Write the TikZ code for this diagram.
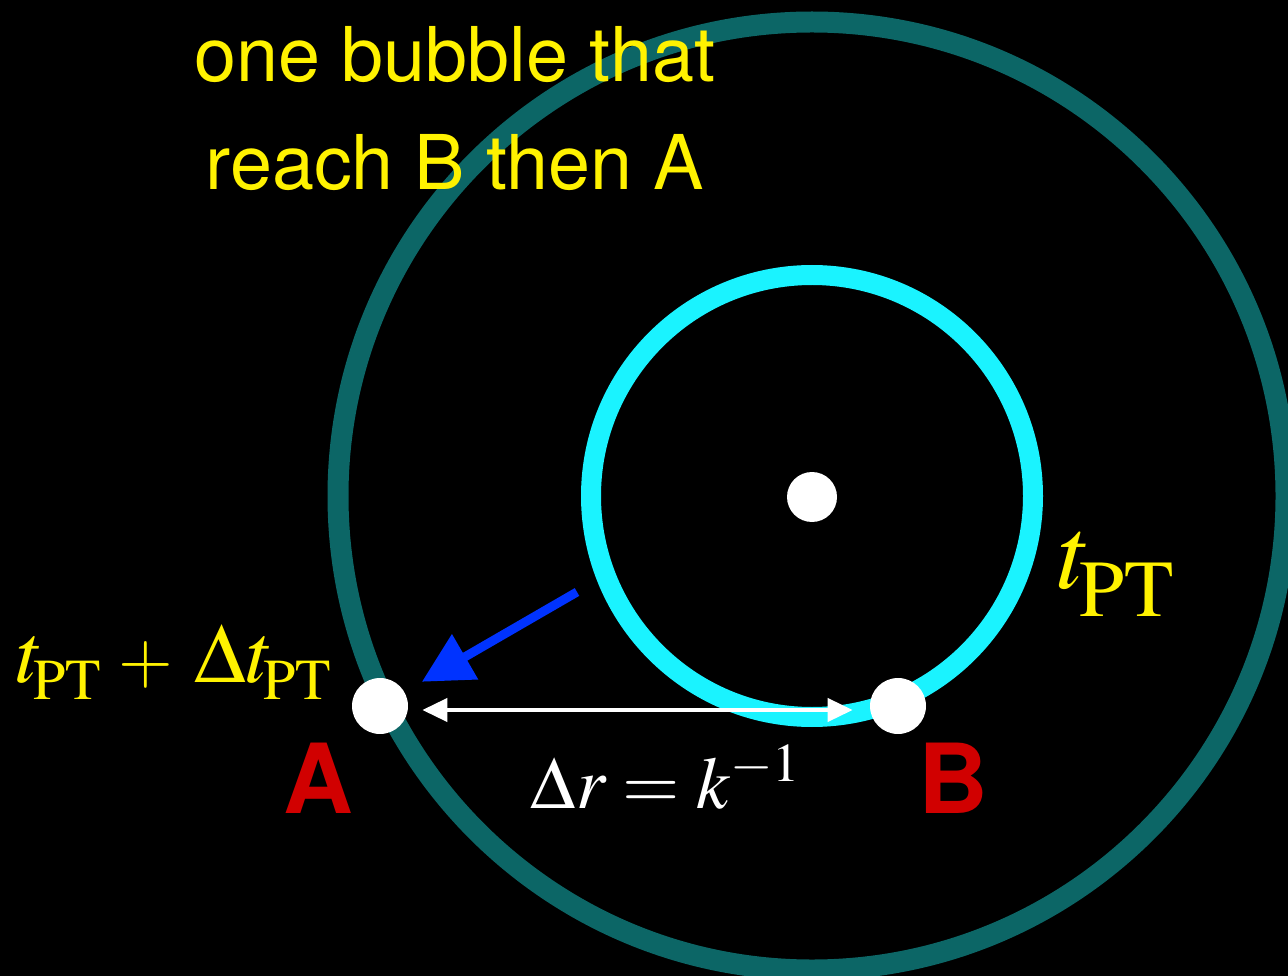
\documentclass[tikz,border=0pt]{standalone}
\usepackage{mathptmx}
\usepackage[no-math]{fontspec}
\setmainfont{TeX Gyre Heros}
\usepackage{tikz}
\usetikzlibrary{positioning,arrows.meta,calc}

\definecolor{bigteal}{HTML}{0C6666}
\definecolor{smallcyan}{HTML}{1AF3FF}
\definecolor{labelyellow}{HTML}{FFF200}
\definecolor{pointred}{HTML}{D10000}
\definecolor{pushblue}{HTML}{0033FF}

% t with a large, low PT index (size, drop)
\newcommand{\tPT}[2]{$t$\kern-0.12em\raisebox{#2}{\fontsize{#1}{#1}\selectfont$\mathrm{PT}$}}

\tikzset{
  dot/.style={circle,fill=white,inner sep=0pt,minimum size=1.12cm},
  ptlabel/.style={text=pointred,inner sep=0pt,font=\fontsize{55}{60}\selectfont\bfseries},
  yellowtext/.style={text=labelyellow,inner sep=0pt},
}

\begin{document}
\begin{tikzpicture}[x=0.02cm,y=-0.02cm]
% black slide, 1288 x 976 px
\fill[black] (0,0) rectangle (1288,976);
\useasboundingbox (0,0) rectangle (1288,976);
\clip (0,0) rectangle (1288,976);
% bubbles around the nucleation point
\draw[bigteal,line width=0.42cm] (812,496) circle[radius=474];
\draw[smallcyan,line width=0.40cm] (812,496) circle[radius=221];
% points
\node[dot,minimum size=1cm] (centre) at (812,497) {};
\node[dot] (ptA) at (380,706) {};
\node[dot] (ptB) at (898,706) {};
\coordinate (blueTail) at (577,592);
% distance between A and B
\draw[white,line width=0.08cm,{Triangle[length=0.5cm,width=0.46cm]}-{Triangle[length=0.5cm,width=0.46cm]},
  shorten <=0.28cm,shorten >=0.34cm] ([yshift=-0.08cm]ptA.east) -- ([yshift=-0.08cm]ptB.west);
% the wall moves on from B to A
\draw[pushblue,line width=0.18cm,-{Triangle[length=1cm,width=1cm]},shorten >=0.4cm] (blueTail) -- (ptA);
% labels
\node[yellowtext,anchor=base,font=\fontsize{43}{52}\selectfont] (line1) at (455,82) {one bubble that};
\node[yellowtext,anchor=base,font=\fontsize{43}{52}\selectfont] (line2) at (455,190) {reach B then A};
\node[yellowtext,anchor=base west,font=\fontsize{59}{64}\selectfont] (tpt) at (1058,588) {\tPT{46}{-0.58cm}};
\node[yellowtext,anchor=base west,font=\fontsize{48}{52}\selectfont] (tptdt) at (16,682)
  {\tPT{33}{-0.36cm}\hspace{0.36cm}{\fontsize{40}{40}\selectfont$+$}\hspace{0.42cm}$\Delta$\tPT{33}{-0.36cm}};
\node[ptlabel,anchor=base] (labA) at (318,813) {A};
\node[ptlabel,anchor=base] (labB) at (953,813) {B};
\node[text=white,inner sep=0pt,anchor=base,font=\fontsize{42}{48}\selectfont] (dist) at (666,808) {$\Delta r = k^{-1}$};
\end{tikzpicture}
\end{document}
